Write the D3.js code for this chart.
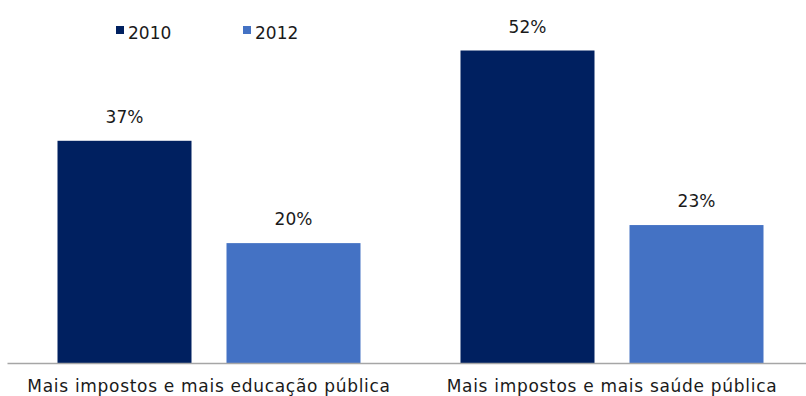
<!DOCTYPE html>
<html>
<head>
<meta charset="utf-8">
<script src="https://cdn.jsdelivr.net/npm/d3@7/dist/d3.min.js"></script>
<style>
  html, body { margin: 0; padding: 0; background: #fff; }
  svg { display: block; font-family: "DejaVu Sans", sans-serif; }
</style>
</head>
<body>
<svg id="chart" width="806" height="396"></svg>
<script>
const categories = ["Mais impostos e mais educação pública", "Mais impostos e mais saúde pública"];
const seriesNames = ["2010", "2012"];
const values2010 = [37, 52];
const values2012 = [20, 23];
const colors = ["#002060", "#4472C4"];

const svg = d3.select("#chart");
const baseY = 363.5;
const FONT = "'DejaVu Sans', sans-serif";

const x0 = d3.scaleBand().domain(categories).range([7.5, 813.5]).paddingInner(0).paddingOuter(0);
const x1 = d3.scaleBand().domain(seriesNames).range([50, x0.bandwidth() - 50]).paddingInner(35 / 169);
const y = d3.scaleLinear().domain([0, 52]).range([baseY, 50.5]);

const data = categories.map((c, i) => ({
  cat: c,
  vals: [{ s: "2010", v: values2010[i] }, { s: "2012", v: values2012[i] }]
}));

const color = d3.scaleOrdinal().domain(seriesNames).range(colors);

const g = svg.selectAll("g.grp").data(data).enter().append("g")
  .attr("class", "grp")
  .attr("transform", d => `translate(${x0(d.cat)},0)`);

g.selectAll("rect").data(d => d.vals).enter().append("rect")
  .attr("x", d => x1(d.s))
  .attr("width", x1.bandwidth())
  .attr("y", d => y(d.v))
  .attr("height", d => baseY - y(d.v))
  .attr("fill", d => color(d.s));

g.selectAll("text.val").data(d => d.vals).enter().append("text")
  .attr("class", "val")
  .attr("x", d => x1(d.s) + x1.bandwidth() / 2)
  .attr("y", d => y(d.v) - 18)
  .attr("text-anchor", "middle")
  .attr("font-size", 17)
  .attr("font-family", FONT)
  .attr("fill", "#1a1a1a")
  .text(d => d.v + "%");

// axis
const xAxis = d3.axisBottom(x0).tickSize(0).tickPadding(16.5);
const ax = svg.append("g").attr("transform", `translate(0,${baseY})`).call(xAxis);
ax.select(".domain").attr("stroke", "#a6a6a6").attr("stroke-width", 1.3)
  .attr("d", `M7.5,0H806`);
ax.selectAll(".tick text")
  .attr("font-size", 17)
  .attr("letter-spacing", "0.7px")
  .attr("fill", "#1a1a1a")
  .attr("font-family", FONT);

// legend
const legendX = [116, 243];
const lg = svg.selectAll("g.leg").data(seriesNames).enter().append("g")
  .attr("class", "leg")
  .attr("transform", (d, i) => `translate(${legendX[i]},0)`);
lg.append("rect").attr("x", 0).attr("y", 26).attr("width", 8).attr("height", 8)
  .attr("fill", d => color(d));
lg.append("text").attr("x", 12).attr("y", 39).attr("font-size", 17)
  .attr("font-family", FONT)
  .attr("fill", "#1a1a1a").text(d => d);
</script>
</body>
</html>
